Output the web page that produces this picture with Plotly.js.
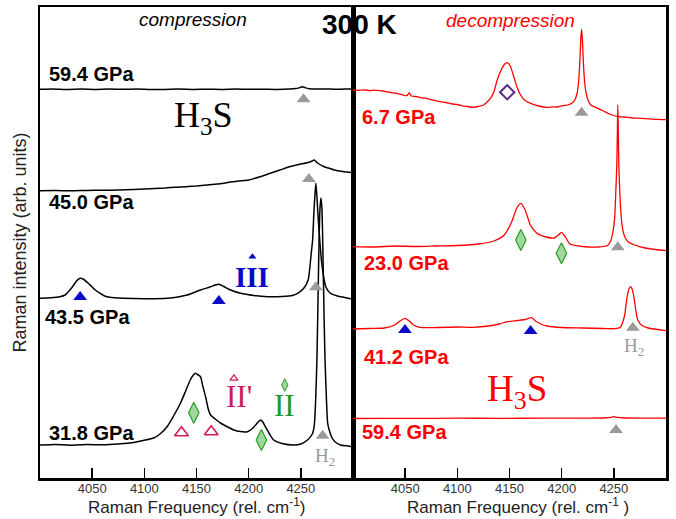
<!DOCTYPE html>
<html>
<head>
<meta charset="utf-8">
<script src="https://cdn.plot.ly/plotly-3.0.1.min.js"></script>
<style>html,body{margin:0;padding:0;background:#fff;}#chart{width:676px;height:519px;}</style>
</head>
<body>
<div id="chart"></div>
<script>
// ---------- DATA ----------
const wavenumberTicks = [4050, 4100, 4150, 4200, 4250];

// compression (left panel), intensity in arbitrary units (stacked offsets)
const comp594_x = [4000,4012,4025,4040,4052,4066,4080,4093,4106,4120,4133,4147,4160,4174,4188,4200,4213,4226,4238,4245,4249,4251.6,4254,4258,4265,4275,4283,4292,4300];
const comp594_y = [388.7,389.0,388.5,388.9,388.6,389.0,388.7,388.9,388.5,388.6,388.9,388.6,388.8,388.6,388.9,388.7,388.8,388.6,389.0,389.4,390.4,391.3,390.4,389.3,388.9,389.1,388.7,389.0,389.0];

const comp450_x = [4000,4015,4030,4045,4060,4075,4090,4100,4110,4120,4130,4140,4150,4160,4170,4180,4190,4200,4210,4220,4230,4240,4248,4256,4260,4262.8,4266,4272.4,4278,4282,4290,4300];
const comp450_y = [287.3,287.5,287.2,287.6,287.7,288,288.5,289,289.5,290,290.8,291.3,292,293,294,295.5,297,298,301,304.5,308,311.5,313.5,315.3,316.5,318,315,311.3,309.5,308,306.5,305.3];

const comp435_x = [4000,4010,4019,4024,4027.2,4031,4035,4038.5,4042,4046,4049.7,4053,4057.7,4062,4067,4080,4100,4121.8,4141,4153.8,4163,4168,4171.5,4176,4182.7,4192.3,4205,4218,4232,4242,4248,4253,4257,4260,4261.3,4262.5,4263.5,4264.4,4265.3,4266.5,4268,4270,4272,4274,4278,4285,4292,4300];
const comp435_y = [179.7,180.2,181.3,183,186.3,191,197,199.7,198.5,195,191.3,188,184.7,182,180.7,179.8,179.3,179.7,183,188,191,193,193.7,191.5,188,184.7,182.5,181.3,181.5,182.5,185.4,190,198,225,238,265,283,294.7,283,262,240,215,200,191,185,182,180.5,178.7];

const comp318_x = [4000,4015,4030,4045,4060,4075,4090,4099,4109,4115,4121.8,4128,4134.6,4140,4144,4147,4149,4151,4153.8,4156,4158.7,4161,4163.5,4168,4173,4180,4185.9,4192,4198.7,4203,4206.7,4209.5,4211.5,4213.5,4216,4220,4224,4232,4243.6,4250,4256.4,4261,4262.8,4264,4265.4,4266.5,4267.5,4268.5,4269.3,4270.2,4271.2,4272.3,4273.2,4274.5,4275.7,4277.2,4280,4283,4288,4295,4300];
const comp318_y = [33,33.6,32.8,33.5,33.2,34,35.5,37.5,40,44,51.3,62,74.7,88,98,103,104.7,103.5,101.3,92,81.3,70,63,59,55,51,48,46.5,46.3,49,53,56.5,58,56,51.3,44,38,34.5,33,34,38,44,52,72,118,180,240,272,280,270,225,160,118,80,55,48,40,36,33,32,31.3];

// decompression (right panel)
const dec67_x = [4000,4005,4010,4016,4020,4025.7,4031,4036,4041,4046,4051.4,4054,4056,4060,4066,4072,4077,4083.5,4089,4095,4100,4105,4110,4115.6,4120,4125.2,4128.5,4131.7,4135,4138.2,4142,4145,4147.8,4150.5,4154.1,4157,4160.6,4165,4170.2,4178,4186.3,4191,4196,4201,4205.6,4210,4212.6,4214.6,4215.9,4216.9,4217.7,4218.4,4219.1,4219.8,4220.5,4221.3,4222.3,4223.6,4225.6,4228,4234.5,4240,4246,4253.8,4260,4267,4276,4284,4292,4300];
const dec67_y = [388,387.6,388.2,387.3,387.8,387.3,386.5,385.5,384.8,383.6,382.3,385,382,381.5,380.2,379.2,377.8,376.3,375.5,374,373.5,372.2,371.5,370.7,371.5,373,376,379.7,386,398,408,413.5,415.3,412.5,401.3,391.5,383,377.5,374.7,372,370.7,371.2,371,372.3,373,375,378,384,393,406,423,440,448.7,440,423,406,393,384,377,373,369.7,367,364,361.3,361,360,359.7,359.2,358.6,358.3];

const dec230_x = [4000,4020,4040,4060,4080,4100,4120,4135,4145,4152,4157,4160.9,4165,4170,4176,4185,4193,4197,4199.8,4203,4208,4220,4235,4244,4247.3,4249.3,4250.8,4251.8,4252.8,4253.3,4253.8,4254.3,4254.8,4255.8,4257,4258.8,4261,4264,4270,4280,4290,4300];
const dec230_y = [231.3,231,232,231.5,232,232.5,234,237,243,256,270,274.7,268,253,245,241,240,243,245.7,242,234,231.5,231,232.5,238,247,260,284,312,340,373,345,312,284,262,247,240,236,233,230,228.5,227.3];

const dec412_x = [4000,4015,4030,4040,4045,4049.8,4054,4058,4064,4080,4100,4115,4130,4140,4147.8,4158,4165,4170.9,4175,4180,4186,4200,4220,4240,4250,4256,4260,4262.7,4264.5,4266,4267.5,4269.2,4271,4273,4277,4283,4300];
const dec412_y = [149,149.5,150,153,157,159.7,157,153,150.7,150.5,151,150.7,152,154,156.3,157.5,158.5,160.3,157,154,152,150.5,150,149.5,149.3,150.5,161,181,189,191.3,189,181,168,158,152.5,150,147.3];

const dec594_x = [4000,4030,4060,4100,4140,4180,4220,4240,4247,4250,4253,4260,4280,4300];
const dec594_y = [59.5,59.7,59.6,59.8,59.7,59.8,59.9,60,60.6,61.4,60.6,60,59.9,59.9];

// peak markers: [wavenumber], [intensity where drawn]
const h2Left_x = [4252.6, 4257.7, 4264.4, 4270.9];
const h2Left_y = [378.7, 299, 190.7, 42.3];
const h2Right_x = [4219.1, 4253.8, 4268.2, 4252.1];
const h2Right_y = [365.3, 230.7, 150.3, 48];
const phaseIIILeft_x = [4038.5, 4171.4];
const phaseIIILeft_y = [181, 177];
const phaseIIIRight_x = [4049.8, 4170.2];
const phaseIIIRight_y = [148, 147];
const phaseIILeft_x = [4147.4, 4212.2];
const phaseIILeft_y = [65.3, 38];
const phaseIIRight_x = [4160.9, 4199.8];
const phaseIIRight_y = [238, 224.7];
const phaseIIpLeft_x = [4135.6, 4164.1];
const phaseIIpLeft_y = [45.3, 46.3];
const lowP_x = [4147.8];
const lowP_y = [385.7];
// legend glyphs above the phase labels
const keyIII_x = [4203.6], keyIII_y = [221.3];
const keyIIp_x = [4185.9], keyIIp_y = [99.7];
const keyII_x = [4234.6], keyII_y = [93];

// ---------- STYLE ----------
const SANS = 'Liberation Sans, Arial, sans-serif';
const SERIF = 'Liberation Serif, Times New Roman, serif';
const GRAY = '#9a9a9a';
const BLUE = '#0a0ac8';
const GREEN_FILL = '#9fd89a';
const GREEN_LINE = '#2a9a2a';
const PINK = '#d01b5a';

function line(x, y, color, ax, w) {
  return {x: x, y: y, xaxis: ax, yaxis: ax === 'x' ? 'y' : 'y2', mode: 'lines',
    line: {color: color, width: w, shape: 'spline', smoothing: 0.6}, hoverinfo: 'skip', showlegend: false};
}
function mk(x, y, ax, symbol, size, fill, lineColor, lw) {
  return {x: x, y: y, xaxis: ax, yaxis: ax === 'x' ? 'y' : 'y2', mode: 'markers',
    marker: {symbol: symbol, size: size, color: fill, line: {color: lineColor, width: lw}},
    hoverinfo: 'skip', showlegend: false};
}

const data = [
  line(comp594_x, comp594_y, '#000', 'x', 1.5),
  line(comp450_x, comp450_y, '#000', 'x', 1.5),
  line(comp435_x, comp435_y, '#000', 'x', 1.5),
  line(comp318_x, comp318_y, '#000', 'x', 1.5),
  line(dec67_x, dec67_y, '#ff0000', 'x2', 1.3),
  line(dec230_x, dec230_y, '#ff0000', 'x2', 1.3),
  line(dec412_x, dec412_y, '#ff0000', 'x2', 1.3),
  line(dec594_x, dec594_y, '#ff0000', 'x2', 1.3),
  mk(h2Left_x, h2Left_y, 'x', 'triangle-up', 12, GRAY, GRAY, 0),
  mk(h2Right_x, h2Right_y, 'x2', 'triangle-up', 12, GRAY, GRAY, 0),
  mk(phaseIIILeft_x, phaseIIILeft_y, 'x', 'triangle-up', 12, BLUE, BLUE, 0),
  mk(phaseIIIRight_x, phaseIIIRight_y, 'x2', 'triangle-up', 12, BLUE, BLUE, 0),
  mk(phaseIILeft_x, phaseIILeft_y, 'x', 'diamond-tall', 15, GREEN_FILL, GREEN_LINE, 1.2),
  mk(phaseIIRight_x, phaseIIRight_y, 'x2', 'diamond-tall', 15, GREEN_FILL, GREEN_LINE, 1.2),
  mk(phaseIIpLeft_x, phaseIIpLeft_y, 'x', 'triangle-up-open', 12, PINK, PINK, 1.6),
  mk(lowP_x, lowP_y, 'x2', 'diamond-open', 11, '#5a2a8a', '#5a2a8a', 2),
  mk(keyIII_x, keyIII_y, 'x', 'triangle-up', 7, BLUE, BLUE, 0),
  mk(keyIIp_x, keyIIp_y, 'x', 'triangle-up-open', 7, PINK, PINK, 1.2),
  mk(keyII_x, keyII_y, 'x', 'diamond-tall', 9, GREEN_FILL, GREEN_LINE, 1)
];

function ann(text, x, y, ax, size, color, opts) {
  return Object.assign({text: text, x: x, y: y, xref: ax, yref: ax === 'x' ? 'y' : 'y2',
    showarrow: false, font: {family: SANS, size: size, color: color}, xanchor: 'left', yanchor: 'middle'}, opts || {});
}

const annotations = [
  ann('<b>59.4 GPa</b>', 4006.7, 404, 'x', 20, '#000'),
  ann('<b>45.0 GPa</b>', 4006.7, 276, 'x', 20, '#000'),
  ann('<b>43.5 GPa</b>', 4002.9, 161.3, 'x', 20, '#000'),
  ann('<b>31.8 GPa</b>', 4006.7, 45, 'x', 20, '#000'),
  ann('<b>6.7 GPa</b>', 4006.4, 361.3, 'x2', 20, '#ff0000'),
  ann('<b>23.0 GPa</b>', 4008.4, 214.7, 'x2', 20, '#ff0000'),
  ann('<b>41.2 GPa</b>', 4008.4, 120.7, 'x2', 20, '#ff0000'),
  ann('<b>59.4 GPa</b>', 4006.4, 46.3, 'x2', 20, '#ff0000'),
  ann('compression', 4146.8, 459, 'x', 19, '#000', {xanchor: 'center', font: {family: SANS, size: 19, color: '#000', style: 'italic'}}),
  ann('decompression', 4151, 457.3, 'x2', 19, '#ff0000', {xanchor: 'center', font: {family: SANS, size: 19, color: '#ff0000', style: 'italic'}}),
  ann('H<sub>3</sub>S', 4156.7, 361, 'x', 36, '#000', {xanchor: 'center', font: {family: SERIF, size: 36, color: '#000'}}),
  ann('H<sub>3</sub>S', 4157.4, 86.3, 'x2', 37, '#ff0000', {xanchor: 'center', font: {family: SERIF, size: 37, color: '#ff0000'}}),
  ann('<b>III</b>', 4203.6, 201, 'x', 29, BLUE, {xanchor: 'center', font: {family: SERIF, size: 29, color: BLUE}}),
  ann('II\'', 4190.7, 81.3, 'x', 31, PINK, {xanchor: 'center', font: {family: SERIF, size: 31, color: PINK}}),
  ann('II', 4234.6, 73, 'x', 31, '#1f9a1f', {xanchor: 'center', font: {family: SERIF, size: 31, color: '#1f9a1f'}}),
  ann('H<sub>2</sub>', 4273, 21, 'x', 19, GRAY, {xanchor: 'center', font: {family: SERIF, size: 19, color: GRAY}}),
  ann('H<sub>2</sub>', 4269.7, 131.3, 'x2', 19, GRAY, {xanchor: 'center', font: {family: SERIF, size: 19, color: GRAY}}),
  {text: '<b>300 K</b>', x: 0.511, y: 0.962, xref: 'paper', yref: 'paper', showarrow: false,
    xanchor: 'center', yanchor: 'middle', font: {family: SANS, size: 28, color: '#000'}},
  {text: 'Raman intensity (arb. units)', x: -0.032, y: 0.5, xref: 'paper', yref: 'paper', showarrow: false,
    textangle: -90, xanchor: 'center', yanchor: 'middle', font: {family: SANS, size: 18, color: '#222'}},
  {text: 'Raman Frequency (rel. cm<sup>-1</sup>)', x: 0.25, y: -0.059, xref: 'paper', yref: 'paper', showarrow: false,
    xanchor: 'center', yanchor: 'middle', font: {family: SANS, size: 17, color: '#222'}},
  {text: 'Raman Frequency (rel. cm<sup>-1</sup> )', x: 0.763, y: -0.059, xref: 'paper', yref: 'paper', showarrow: false,
    xanchor: 'center', yanchor: 'middle', font: {family: SANS, size: 17, color: '#222'}}
];

const xBase = {
  range: [4000, 4300], tickvals: wavenumberTicks, ticktext: wavenumberTicks.map(String),
  ticks: 'inside', ticklen: 10, tickwidth: 1.5, tickcolor: '#000',
  showline: true, linecolor: '#000', linewidth: 2.5, mirror: true,
  showgrid: false, zeroline: false, tickfont: {family: SANS, size: 13, color: '#333'},
  ticklabelstandoff: -3
};
const yBase = {
  range: [0, 471], showticklabels: false, ticks: '', showline: true, linecolor: '#000',
  linewidth: 2.5, mirror: true, showgrid: false, zeroline: false
};

const layout = {
  width: 676, height: 519,
  margin: {l: 40, r: 10, t: 7, b: 41},
  paper_bgcolor: '#fff', plot_bgcolor: '#fff',
  showlegend: false,
  xaxis: Object.assign({}, xBase, {domain: [0, 0.5], anchor: 'y'}),
  xaxis2: Object.assign({}, xBase, {domain: [0.5, 1], anchor: 'y2'}),
  yaxis: Object.assign({}, yBase, {anchor: 'x'}),
  yaxis2: Object.assign({}, yBase, {anchor: 'x2'}),
  annotations: annotations
};

Plotly.newPlot('chart', data, layout, {displayModeBar: false, staticPlot: true});
</script>
</body>
</html>
